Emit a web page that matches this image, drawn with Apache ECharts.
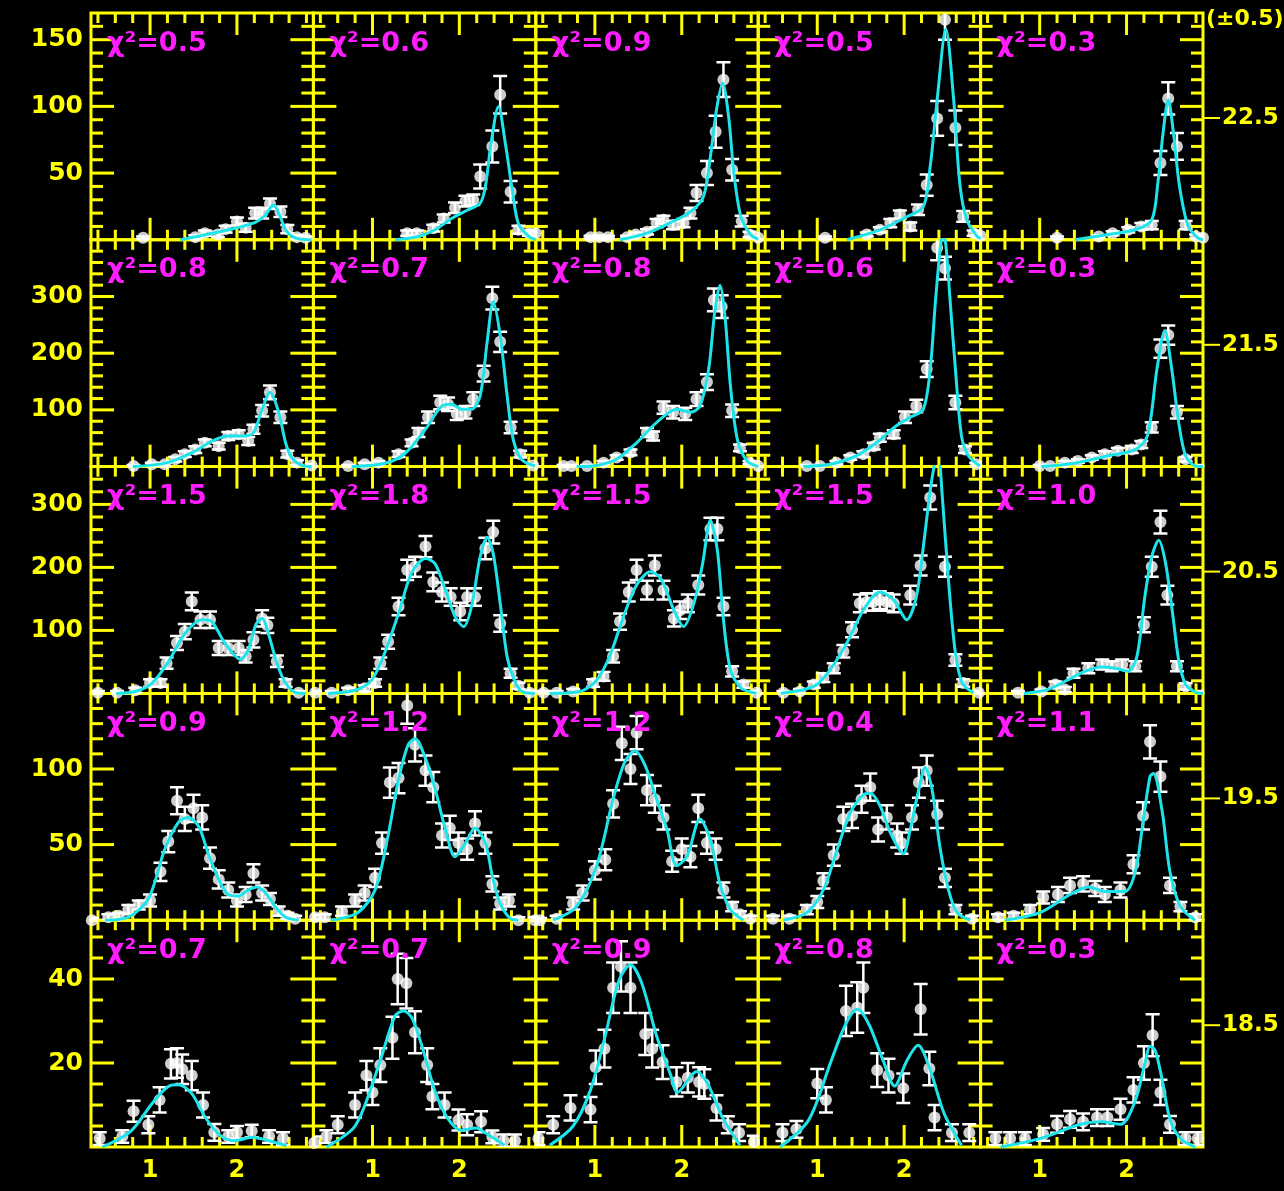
<!DOCTYPE html>
<html><head><meta charset="utf-8">
<script src="https://cdn.jsdelivr.net/npm/echarts@6/dist/echarts.min.js"></script>
<style>html,body{margin:0;padding:0;background:#000;}#c{width:1284px;height:1191px;}</style>
</head><body><div id="c"></div>
<script>
// ---------- axes / labels ----------
const X_MIN = 0.32, X_MAX = 2.88;
const X_LABELS = [1, 2];
const Y_MAX = [170, 400, 360, 150, 54];
const Y_LABELS = [[50,100,150],[100,200,300],[100,200,300],[50,100],[20,40]];
const Y_MINOR_STEP = [10, 20, 20, 10, 5];
const RIGHT_LABELS = [18.5, 19.5, 20.5, 21.5, 22.5];
const CHI2 = [[0.5,0.6,0.9,0.5,0.3],[0.8,0.7,0.8,0.6,0.3],[1.5,1.8,1.5,1.5,1.0],[0.9,1.2,1.2,0.4,1.1],[0.7,0.7,0.9,0.8,0.3]];

// ---------- data: [x, y, err] points and fitted curves [x, y] ----------
const P11_PTS=[[0.92,1.5,1],[1.52,2,1.5],[1.63,5,2],[1.78,4,2],[1.87,8,2.5],[2.0,13.7,3],[2.1,9,3],[2.21,20,4],[2.29,20,4],[2.38,27,4],[2.5,21,4],[2.58,8,3],[2.69,2,1.5],[2.79,1.5,1]];
const P11_FIT=[[1.35,0],[1.58,3],[1.8,6],[2.0,9],[2.21,13],[2.32,18],[2.42,26],[2.5,17],[2.56,7.5],[2.67,1.5],[2.86,0]];
const P12_PTS=[[1.40,5,2],[1.51,5,2],[1.70,8.7,2.5],[1.82,16,3],[1.95,24,4],[2.07,29,4],[2.16,30,4],[2.24,47.5,9],[2.38,70,12],[2.47,108.7,14],[2.59,36,8],[2.68,7.5,3],[2.80,5,2],[2.88,5,2]];
const P12_FIT=[[1.26,0],[1.53,2.5],[1.72,7.5],[1.91,16],[2.1,22.5],[2.24,27.5],[2.30,40],[2.36,70],[2.45,100],[2.53,72],[2.61,37],[2.68,12],[2.80,2.5],[2.88,0]];
const P13_PTS=[[0.95,2,1],[1.05,2,1],[1.15,2,1],[1.37,2,1],[1.47,4,1.5],[1.60,6,2],[1.71,12.5,3],[1.79,15,3],[1.90,11,3],[2.02,12.5,3],[2.10,20,4],[2.17,35,6],[2.29,50,9],[2.39,81,12],[2.48,120,13],[2.58,52.5,8],[2.69,14,4],[2.78,4,2],[2.88,1.5,1]];
const P13_FIT=[[1.29,0],[1.6,5],[1.86,12.5],[2.1,21],[2.25,32.5],[2.33,62.5],[2.40,97.5],[2.47,117.5],[2.54,92],[2.60,50],[2.68,17.5],[2.79,4],[2.88,0.5]];
const P14_PTS=[[1.09,1.5,1],[1.57,4,1.5],[1.72,7.5,2],[1.84,12.5,3],[1.95,19,3],[2.07,10,3],[2.16,22.5,4],[2.26,41,8],[2.38,91,13],[2.47,165,15],[2.59,84,13],[2.68,17.5,4],[2.80,5,2],[2.88,3,1.5]];
const P14_FIT=[[1.34,0],[1.72,7.5],[1.99,16],[2.22,25],[2.30,55],[2.38,105],[2.48,158],[2.57,105],[2.64,42.5],[2.72,15],[2.84,2.5],[2.88,1]];
const P15_PTS=[[1.20,1.5,1],[1.68,2.5,1],[1.84,5,1.5],[2.02,7.5,2],[2.17,10,2.5],[2.29,11,3],[2.39,57.5,9],[2.48,106,12],[2.58,70,10],[2.68,11,3],[2.80,2.5,1.5],[2.88,1.5,1]];
const P15_FIT=[[1.41,0],[1.79,4],[2.1,7.5],[2.29,15],[2.36,42.5],[2.42,80],[2.48,105],[2.54,80],[2.61,40],[2.71,10],[2.82,1.5],[2.88,0]];

const P21_PTS=[[0.81,1,2],[1.02,4,3],[1.17,4,3],[1.29,13,4],[1.40,22,5],[1.52,30,6],[1.63,42,6],[1.79,36,6],[1.90,54,7],[2.02,57,7],[2.13,45,7],[2.19,66,8],[2.29,98.5,10],[2.38,131,12],[2.50,87,10],[2.58,22,6],[2.69,7,4],[2.86,2,2]];
const P21_FIT=[[0.8,0],[1.2,7],[1.52,27.5],[1.71,45],[1.9,54],[2.09,54],[2.19,60],[2.29,101],[2.38,131],[2.48,96],[2.56,42],[2.63,16],[2.75,2],[2.86,0]];
const P22_PTS=[[0.72,1,2],[0.91,4,3],[1.07,7,3],[1.30,22,5],[1.45,42,6],[1.53,60,8],[1.64,87,10],[1.78,113,12],[1.87,110,12],[1.97,93,11],[2.07,96,11],[2.16,119,12],[2.28,164,14],[2.38,297,20],[2.47,220,18],[2.59,69,10],[2.70,22,6],[2.85,2,2]];
const P22_FIT=[[0.76,0],[1.15,6],[1.38,24],[1.61,66],[1.80,107],[1.91,110],[2.03,101],[2.14,101],[2.24,125],[2.32,220],[2.39,291],[2.47,231],[2.55,125],[2.62,48],[2.72,12],[2.87,1]];
const P23_PTS=[[0.64,1,2],[0.73,1,2],[0.91,1,2],[1.10,7,3],[1.25,16,4],[1.41,25,5],[1.60,60,8],[1.67,54,8],[1.79,104,11],[1.90,96,11],[2.04,93,11],[2.17,119,12],[2.29,149,14],[2.37,294,20],[2.46,282,20],[2.58,98.5,11],[2.67,33,6],[2.78,7,3],[2.88,1,2]];
const P23_FIT=[[0.79,0],[1.02,2],[1.25,13],[1.48,42],[1.67,72],[1.83,93],[1.94,101],[2.10,96],[2.21,107],[2.31,172],[2.38,273],[2.44,320],[2.50,261],[2.56,143],[2.64,48],[2.75,10],[2.88,0]];
const P24_PTS=[[0.88,1,2],[1.03,1,2],[1.22,7,3],[1.38,16,4],[1.53,22,5],[1.65,36,6],[1.72,51,7],[1.88,57,7],[2.01,87,10],[2.14,107,11],[2.26,172,14],[2.38,386,22],[2.47,350,20],[2.59,113,12],[2.70,30,6],[2.83,4,3]];
const P24_FIT=[[0.84,0],[1.15,4],[1.45,19],[1.68,42],[1.91,72],[2.07,87],[2.22,101],[2.30,172],[2.36,291],[2.42,391],[2.45,410],[2.48,391],[2.53,291],[2.59,172],[2.66,54],[2.74,19],[2.87,1]];
const P25_PTS=[[1.00,1,2],[1.12,1,2],[1.29,7,3],[1.44,10,3],[1.60,16,4],[1.75,22,5],[1.90,28,5],[2.06,30,6],[2.17,39,6],[2.29,69,9],[2.39,208,16],[2.48,232,17],[2.58,96,11],[2.68,13,4],[2.89,1,2]];
const P25_FIT=[[1.02,0],[1.40,6],[1.79,19],[2.10,30],[2.24,54],[2.35,172],[2.44,240],[2.52,172],[2.60,78],[2.68,19],[2.79,1],[2.88,0]];

const P31_PTS=[[0.40,1,3],[0.62,1,3],[0.83,5,4],[1.00,16.5,6],[1.12,16.5,6],[1.19,48,9],[1.31,80,11],[1.40,98,12],[1.48,146,14],[1.58,117,13],[1.69,117,13],[1.79,72,11],[1.90,72,11],[2.02,72,11],[2.10,59,10],[2.19,85,12],[2.29,119,13],[2.35,108,12],[2.46,51,9],[2.56,16.5,6],[2.71,1,3]];
const P31_FIT=[[0.61,0],[0.83,3],[1.02,16],[1.21,50],[1.40,95],[1.60,117],[1.71,114],[1.86,80],[2.04,54],[2.13,69],[2.22,110],[2.29,119],[2.37,91],[2.46,48],[2.56,16.5],[2.68,1],[2.79,0]];
const P32_PTS=[[0.34,1,3],[0.53,1,3],[0.72,5,4],[0.91,8,5],[1.03,16.5,6],[1.09,48,9],[1.18,82,11],[1.30,138,14],[1.40,196,16],[1.49,201,16],[1.61,233,17],[1.70,177,15],[1.80,161,15],[1.90,153,14],[2.01,130,14],[2.09,153,14],[2.18,153,14],[2.30,230,17],[2.39,256,18],[2.47,111,13],[2.59,32,7],[2.68,12,5],[2.81,1,3],[2.89,1,3]];
const P32_FIT=[[0.49,0],[0.80,5],[0.99,21],[1.14,64],[1.30,127],[1.45,191],[1.61,214],[1.72,206],[1.84,164],[1.95,122],[2.05,106],[2.14,138],[2.24,217],[2.32,248],[2.39,222],[2.47,143],[2.55,58],[2.63,22],[2.72,3],[2.87,0]];
const P33_PTS=[[0.41,1,3],[0.56,1,3],[0.75,3,4],[0.98,16.5,6],[1.10,27,7],[1.21,59,10],[1.29,114,13],[1.39,161,15],[1.48,196,16],[1.60,164,15],[1.69,203,16],[1.79,164,15],[1.91,119,13],[1.98,132,14],[2.07,143,14],[2.19,172,15],[2.33,261,18],[2.41,261,18],[2.48,138,14],[2.58,35,8],[2.71,14,5],[2.86,1,3]];
const P33_FIT=[[0.48,0],[0.83,3],[1.02,21],[1.17,59],[1.33,122],[1.48,172],[1.64,193],[1.76,182],[1.91,132],[2.02,106],[2.14,143],[2.24,206],[2.33,275],[2.41,227],[2.48,117],[2.56,38],[2.68,9],[2.86,0]];
const P34_PTS=[[0.61,1,3],[0.80,3,4],[0.96,14,5],[1.07,25,7],[1.19,40,8],[1.30,67,10],[1.40,101,12],[1.49,143,14],[1.57,145,14],[1.64,145,14],[1.72,148,14],[1.80,145,14],[1.88,143,14],[2.07,156,15],[2.19,203,16],[2.30,311,19],[2.47,201,16],[2.59,53,9],[2.68,16.5,6],[2.86,1,3]];
const P34_FIT=[[0.58,0],[0.96,11],[1.15,38],[1.34,80],[1.53,132],[1.72,161],[1.88,148],[2.03,117],[2.14,153],[2.22,232],[2.30,322],[2.36,372],[2.39,385],[2.44,311],[2.51,180],[2.59,64],[2.67,16.5],[2.80,1]];
const P35_PTS=[[0.75,1,3],[1.02,3,3],[1.18,14,5],[1.29,6,4],[1.39,32,7],[1.56,40,8],[1.72,46,8],[1.83,43,8],[1.95,46,8],[2.10,43,8],[2.20,109,12],[2.29,201,16],[2.39,272,18],[2.47,156,15],[2.58,43,8],[2.68,11,5],[2.89,1,3]];
const P35_FIT=[[0.82,0],[1.09,6],[1.32,21],[1.52,35],[1.71,42],[1.87,40],[2.02,35],[2.12,59],[2.21,153],[2.29,217],[2.37,243],[2.45,206],[2.53,127],[2.60,53],[2.68,14],[2.79,2],[2.88,0]];

const P41_PTS=[[0.33,0,1.5],[0.52,2,2],[0.64,3,2],[0.75,7,3],[0.87,10,3],[1.00,13,4],[1.12,32,6],[1.21,52,7],[1.31,79,9],[1.40,67,8],[1.50,74,9],[1.60,68,8],[1.69,41,7],[1.79,27,6],[1.90,20,5],[2.00,13,4],[2.10,17,5],[2.19,31,6],[2.29,18,5],[2.38,14,4],[2.48,6,3],[2.58,3,2],[2.67,1,2]];
const P41_FIT=[[0.48,0],[0.75,2],[0.98,14],[1.17,47],[1.33,65],[1.44,68],[1.56,62],[1.67,44],[1.79,27],[1.90,17],[2.02,16],[2.13,20],[2.23,22],[2.33,18],[2.44,9],[2.56,2],[2.71,0]];
const P42_PTS=[[0.34,2,1.5],[0.45,2,2],[0.65,6,3],[0.80,13,4],[0.91,18,5],[1.03,28,6],[1.11,51,7],[1.20,91,10],[1.30,94,10],[1.40,142,12],[1.49,116,11],[1.61,99,10],[1.70,88,10],[1.80,56,8],[1.89,61,8],[1.99,51,7],[2.09,47,7],[2.18,64,8],[2.30,51,7],[2.38,24,5],[2.47,11,4],[2.57,13,4],[2.68,0,2],[2.87,0,2]];
const P42_FIT=[[0.52,0],[0.83,5],[1.03,20],[1.18,56],[1.30,93],[1.41,116],[1.49,120],[1.61,107],[1.72,87],[1.84,60],[1.95,42],[2.07,51],[2.18,61],[2.30,51],[2.38,29],[2.47,11],[2.59,1],[2.68,0]];
const P43_PTS=[[0.37,0,1.5],[0.56,1,2],[0.75,11,4],[0.86,18,5],[1.00,33,6],[1.12,40,7],[1.21,77,9],[1.31,117,11],[1.41,100,10],[1.48,124,11],[1.60,86,10],[1.69,80,9],[1.79,68,8],[1.89,39,7],[2.00,47,7],[2.10,42,7],[2.19,74,9],[2.29,51,7],[2.39,47,7],[2.48,20,5],[2.58,9,3],[2.67,4,2],[2.79,1,2]];
const P43_FIT=[[0.52,0],[0.79,9],[1.02,36],[1.21,80],[1.34,104],[1.46,112],[1.58,102],[1.71,80],[1.83,60],[1.94,36],[2.06,42],[2.21,67],[2.33,53],[2.44,24],[2.56,7],[2.71,0]];
const P44_PTS=[[0.49,1,2],[0.68,1,2],[0.88,7,3],[1.00,12,4],[1.07,26,5],[1.19,43,7],[1.30,67,8],[1.40,69,8],[1.51,80,9],[1.61,88,9],[1.70,60,8],[1.80,68,8],[1.92,56,8],[1.97,51,7],[2.09,68,8],[2.17,91,10],[2.26,99,10],[2.38,70,9],[2.47,28,6],[2.59,7,3],[2.78,1,2]];
const P44_FIT=[[0.61,0],[0.88,5],[1.07,20],[1.23,47],[1.38,71],[1.53,83],[1.61,84],[1.72,76],[1.84,58],[1.99,44],[2.07,60],[2.17,87],[2.24,101],[2.32,87],[2.41,49],[2.51,20],[2.61,5],[2.76,0]];
const P45_PTS=[[0.52,2,2],[0.70,3,2],[0.89,7,3],[1.04,15,4],[1.21,17,5],[1.35,23,5],[1.50,24,5],[1.64,21,5],[1.75,17,5],[1.93,20,5],[2.08,37,6],[2.19,69,9],[2.27,118,11],[2.39,95,10],[2.50,23,5],[2.62,9,3],[2.79,2,2]];
const P45_FIT=[[0.60,0],[1.00,5],[1.35,17],[1.56,22],[1.75,19],[1.98,19],[2.10,32],[2.19,65],[2.27,95],[2.31,97],[2.41,72],[2.50,32],[2.62,9],[2.79,0]];

const P51_PTS=[[0.42,2,1.5],[0.68,2.5,1.5],[0.81,8.5,2.5],[0.98,5.3,2],[1.11,11.2,3],[1.24,19.8,3.5],[1.31,20,3.5],[1.37,18.5,3.5],[1.48,17,3.5],[1.61,10,3],[1.74,3.5,2],[1.90,2.5,1.5],[2.00,3.5,1.5],[2.17,3.8,1.5],[2.37,2.5,1.5],[2.53,2,1.5]];
const P51_FIT=[[0.45,0],[0.78,3.8],[1.04,10.8],[1.24,14.7],[1.33,14.8],[1.48,12.7],[1.64,6.9],[1.81,2.7],[1.98,1.5],[2.17,2.3],[2.37,1.5],[2.57,0.3]];
const P52_PTS=[[0.33,1,1.5],[0.47,2.5,1.5],[0.60,5.3,2],[0.80,10,3],[0.93,17,3.5],[1.00,13,3],[1.09,19.5,4],[1.23,26,5],[1.29,40,6],[1.39,39,6],[1.49,27.3,5],[1.63,19.5,4],[1.69,12,3],[1.83,10,3],[1.99,6.4,2.5],[2.09,5.3,2.5],[2.25,6,2.5],[2.38,2.4,1.5],[2.51,1.5,1.5],[2.64,1.5,1.5]];
const P52_FIT=[[0.47,0],[0.80,5],[1.06,18.7],[1.26,31.2],[1.36,32.4],[1.46,30.5],[1.59,22.6],[1.72,13.2],[1.86,7],[2.02,4],[2.19,4.5],[2.32,3.1],[2.52,0.4]];
const P53_PTS=[[0.35,2,1.5],[0.52,5.3,2],[0.72,9.3,3],[0.95,8.9,3],[1.01,19,4],[1.11,23.4,4.5],[1.21,37.9,6],[1.30,43,6],[1.41,37.9,6],[1.58,26.9,5],[1.66,23.4,4.5],[1.78,20.2,4],[1.94,15.5,3.5],[2.07,16.5,3.5],[2.20,15.5,3.5],[2.26,15,3.5],[2.40,9.3,3],[2.53,5.3,2],[2.66,3.4,2],[2.83,1.2,1.5]];
const P53_FIT=[[0.48,0.4],[0.75,5],[0.95,13.6],[1.11,25.7],[1.28,39.8],[1.41,43.4],[1.54,39],[1.71,26.5],[1.87,17.3],[1.95,13],[2.17,18],[2.30,15],[2.47,7],[2.67,0.4]];
const P54_PTS=[[0.60,3.4,2],[0.76,4.2,2],[1.00,15.1,3.5],[1.10,11.2,3],[1.33,32.4,6],[1.46,33.2,6],[1.53,37.9,6],[1.69,18.3,4],[1.82,17,4],[1.99,14,3.5],[2.19,32.8,6],[2.29,18.7,4],[2.35,7,3],[2.55,3.4,2],[2.75,3.4,2]];
const P54_FIT=[[0.57,0],[0.90,6.4],[1.16,20.5],[1.33,29.4],[1.46,32.8],[1.59,29.4],[1.76,20.5],[1.89,14.5],[2.03,20.5],[2.16,24.2],[2.29,19],[2.46,8],[2.66,0.4]];
const P55_PTS=[[0.49,2,1.5],[0.66,2,1.5],[0.83,2,1.5],[1.04,3,1.5],[1.20,5.4,2],[1.35,6.6,2],[1.50,6,2],[1.66,7,2],[1.78,7,2],[1.93,9,2.5],[2.08,13.6,3],[2.20,20,4],[2.30,26.6,5],[2.39,13,3],[2.50,5.4,2],[2.68,2,1.5],[2.82,2,1.5]];
const P55_FIT=[[0.55,0],[1.00,2],[1.47,5.4],[1.70,6],[1.93,5.4],[2.10,11],[2.22,20.7],[2.27,24],[2.33,23],[2.41,16],[2.50,6.6],[2.62,2],[2.79,0]];

const PTS = [[P11_PTS,P12_PTS,P13_PTS,P14_PTS,P15_PTS],[P21_PTS,P22_PTS,P23_PTS,P24_PTS,P25_PTS],[P31_PTS,P32_PTS,P33_PTS,P34_PTS,P35_PTS],[P41_PTS,P42_PTS,P43_PTS,P44_PTS,P45_PTS],[P51_PTS,P52_PTS,P53_PTS,P54_PTS,P55_PTS]];
const FIT = [[P11_FIT,P12_FIT,P13_FIT,P14_FIT,P15_FIT],[P21_FIT,P22_FIT,P23_FIT,P24_FIT,P25_FIT],[P31_FIT,P32_FIT,P33_FIT,P34_FIT,P35_FIT],[P41_FIT,P42_FIT,P43_FIT,P44_FIT,P45_FIT],[P51_FIT,P52_FIT,P53_FIT,P54_FIT,P55_FIT]];

// ---------- layout / style ----------
const GL = 91, GT = 13, GW = 222.4, GH = 226.8;
const YEL = '#ffff00', CYAN = '#1de4ea', MAG = '#ff1cff', WHITE = '#ffffff';
const FONT = 'DejaVu Sans';

function xTicks() {
  const out = [];
  for (let k = 2; k <= 14; k++) out.push(Math.round(k * 0.2 * 100) / 100);
  return out;
}
function yTicks(r) {
  const out = [];
  for (let v = Y_MINOR_STEP[r]; v < Y_MAX[r] - 1e-9; v += Y_MINOR_STEP[r]) out.push(v);
  return out;
}
function makeTickRender(r) {
  const xs = xTicks(), ys = yTicks(r), ymax = Y_MAX[r];
  return function (params, api) {
    const st = { stroke: YEL, lineWidth: 3 };
    const ch = [];
    xs.forEach(v => {
      const L = X_LABELS.some(m => Math.abs(m - v) < 1e-6) ? 22 : 10;
      const b = api.coord([v, 0]), t = api.coord([v, ymax]);
      ch.push({ type: 'line', shape: { x1: b[0], y1: b[1], x2: b[0], y2: b[1] - L }, style: st });
      ch.push({ type: 'line', shape: { x1: t[0], y1: t[1], x2: t[0], y2: t[1] + L }, style: st });
    });
    ys.forEach(v => {
      const L = Y_LABELS[r].indexOf(v) >= 0 ? 23 : 12;
      const a = api.coord([X_MIN, v]), b = api.coord([X_MAX, v]);
      ch.push({ type: 'line', shape: { x1: a[0], y1: a[1], x2: a[0] + L, y2: a[1] }, style: st });
      ch.push({ type: 'line', shape: { x1: b[0], y1: b[1], x2: b[0] - L, y2: b[1] }, style: st });
    });
    return { type: 'group', children: ch };
  };
}
function errRender(params, api) {
  const x = api.value(0), y = api.value(1), e = api.value(2);
  const lo = api.coord([x, y - e]), hi = api.coord([x, y + e]);
  const hw = 7, st = { stroke: WHITE, lineWidth: 2.5 };
  return { type: 'group', children: [
    { type: 'line', shape: { x1: lo[0], y1: lo[1], x2: hi[0], y2: hi[1] }, style: st },
    { type: 'line', shape: { x1: lo[0] - hw, y1: lo[1], x2: lo[0] + hw, y2: lo[1] }, style: st },
    { type: 'line', shape: { x1: hi[0] - hw, y1: hi[1], x2: hi[0] + hw, y2: hi[1] }, style: st }
  ]};
}
function rightTickRender(params, api) {
  const p = api.coord([1, api.value(0)]);
  return { type: 'line', shape: { x1: p[0], y1: p[1], x2: p[0] + 17, y2: p[1] }, style: { stroke: YEL, lineWidth: 2 } };
}

const grid = [], xAxis = [], yAxis = [], series = [], graphic = [];
for (let r = 0; r < 5; r++) {
  for (let c = 0; c < 5; c++) {
    const i = r * 5 + c;
    grid.push({ left: GL + c * GW, top: GT + r * GH, width: GW, height: GH, show: true,
      borderColor: YEL, borderWidth: 3, backgroundColor: 'transparent' });
    xAxis.push({ gridIndex: i, type: 'value', min: X_MIN, max: X_MAX,
      axisLine: { show: false }, axisTick: { show: false }, splitLine: { show: false },
      axisLabel: { show: r === 4, customValues: X_LABELS, color: YEL, fontSize: 24, fontWeight: 'bold', fontFamily: FONT, margin: 12 } });
    yAxis.push({ gridIndex: i, type: 'value', min: 0, max: Y_MAX[r],
      axisLine: { show: false }, axisTick: { show: false }, splitLine: { show: false },
      axisLabel: { show: c === 0, customValues: Y_LABELS[r], color: YEL, fontSize: 25, fontWeight: 'bold', fontFamily: FONT, margin: 8 } });
    series.push({ type: 'custom', xAxisIndex: i, yAxisIndex: i, data: [[1, 1]], renderItem: makeTickRender(r),
      clip: false, silent: true, z: 1 });
    series.push({ type: 'custom', xAxisIndex: i, yAxisIndex: i, data: PTS[r][c], renderItem: errRender,
      encode: { x: 0, y: 1 }, clip: true, silent: true, z: 2 });
    series.push({ type: 'scatter', xAxisIndex: i, yAxisIndex: i, data: PTS[r][c].map(p => [p[0], p[1]]),
      symbol: 'circle', symbolSize: 12, itemStyle: { color: WHITE }, clip: true, silent: true, z: 3 });
    series.push({ type: 'line', xAxisIndex: i, yAxisIndex: i, data: FIT[r][c], smooth: 0.3,
      showSymbol: false, lineStyle: { color: CYAN, width: 3 }, clip: true, silent: true, z: 4 });
    graphic.push({ type: 'text', left: GL + c * GW + 16, top: GT + r * GH + 17, z: 10,
      style: { text: 'χ²=' + CHI2[r][c].toFixed(1), fill: MAG, fontSize: 27, fontWeight: 'bold', fontFamily: FONT } });
  }
}
// right-hand overall scale
grid.push({ left: GL, top: GT, width: GW * 5, height: GH * 5, show: false });
xAxis.push({ gridIndex: 25, type: 'value', show: false, min: 0, max: 1 });
yAxis.push({ gridIndex: 25, type: 'value', position: 'right', min: 17.963, max: 22.963,
  axisLine: { show: false }, splitLine: { show: false }, axisTick: { show: false },
  axisLabel: { show: true, customValues: RIGHT_LABELS, color: YEL, fontSize: 23, fontWeight: 'bold', fontFamily: FONT, margin: 19,
    formatter: v => v.toFixed(1) } });
series.push({ type: 'custom', xAxisIndex: 25, yAxisIndex: 25, data: RIGHT_LABELS.map(v => [v]),
  encode: { y: 0 }, renderItem: rightTickRender, clip: false, silent: true, z: 5 });
graphic.push({ type: 'text', left: GL + GW * 5 + 3, top: 8, z: 10,
  style: { text: '(±0.5)', fill: YEL, fontSize: 22, fontWeight: 'bold', fontFamily: FONT } });

const chart = echarts.init(document.getElementById('c'), null, { renderer: 'canvas' });
chart.setOption({ backgroundColor: '#000000', animation: false, grid, xAxis, yAxis, series, graphic });
</script>
</body></html>
